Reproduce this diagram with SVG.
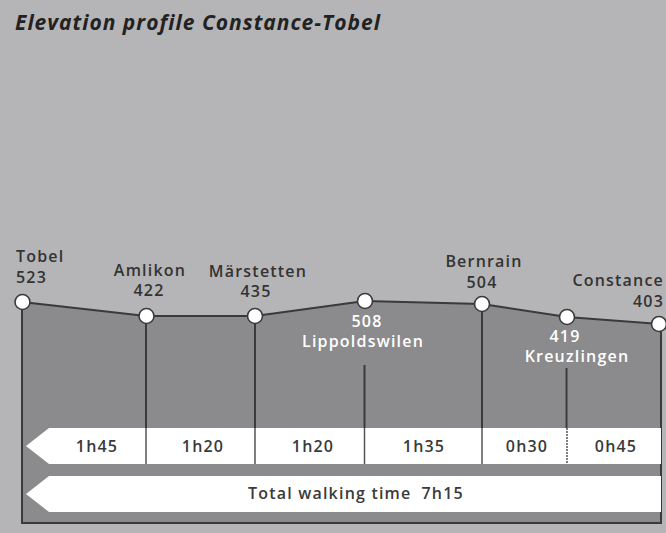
<svg xmlns="http://www.w3.org/2000/svg" width="666" height="533" viewBox="0 0 666 533">
<style>
.lbl{font-family:"Open Sans","Liberation Sans",sans-serif;font-weight:600;font-size:16px;letter-spacing:1.2px;fill:#333;text-anchor:middle}
.wl{fill:#fff}
.tm{font-family:"Open Sans","Liberation Sans",sans-serif;font-weight:600;font-size:16px;letter-spacing:1.2px;fill:#3a3a3a;text-anchor:middle}
.pt{fill:#fff;stroke:#3a3a3a;stroke-width:1.6}
.vl{stroke:#3a3a3a;stroke-width:2;fill:none}
.sep{stroke:#555;stroke-width:1.5}
.box{fill:#fff}
</style>
<rect x="0" y="0" width="666" height="533" fill="#b5b5b7"/>
<text x="15" y="30" font-family="Open Sans, Liberation Sans, sans-serif" font-weight="700" font-style="italic" font-size="21" letter-spacing="1" fill="#222">Elevation profile Constance-Tobel</text>
<g id="profile">
<polygon points="22,302 146,316 255,316 365,301 482,304 567,317 660,324 661,523 22,523" fill="#8b8b8d"/>
<polyline points="22,302 146,316 255,316 365,301 482,304 567,317 660,324" fill="none" stroke="#3a3a3a" stroke-width="2"/>
<polyline points="22,302 22,523 661,523 661,324" class="vl"/>
</g>
<g id="connectors">
<line x1="146" y1="316" x2="146" y2="464" class="vl"/>
<line x1="255" y1="316" x2="255" y2="464" class="vl"/>
<line x1="364.5" y1="365" x2="364.5" y2="428" class="vl"/>
<line x1="482" y1="304" x2="482" y2="464" class="vl"/>
<line x1="566.5" y1="368" x2="566.5" y2="428" class="vl"/>
</g>
<g id="times">
<polygon class="box" points="49,428 661,428 661,464 49,464 26,446"/>
<line x1="146" y1="428" x2="146" y2="464" class="sep"/>
<line x1="255" y1="428" x2="255" y2="464" class="sep"/>
<line x1="364.5" y1="428" x2="364.5" y2="464" class="sep"/>
<line x1="482" y1="428" x2="482" y2="464" class="sep"/>
<line x1="567" y1="428" x2="567" y2="464" class="sep" stroke-dasharray="2,1"/>
<text class="tm" x="97" y="452">1h45</text>
<text class="tm" x="203" y="452">1h20</text>
<text class="tm" x="313" y="452">1h20</text>
<text class="tm" x="424" y="452">1h35</text>
<text class="tm" x="527" y="452">0h30</text>
<text class="tm" x="616" y="452">0h45</text>
</g>
<g id="total">
<polygon class="box" points="49,476 661,476 661,512 49,512 26,494"/>
<text class="tm" x="248" y="499" style="text-anchor:start">Total walking time<tspan dx="10">7h15</tspan></text>
</g>
<g id="tobel"><circle class="pt" cx="22.5" cy="302" r="7.5"/><text class="lbl" x="16" y="262" style="text-anchor:start">Tobel</text><text class="lbl" x="16" y="283" style="text-anchor:start">523</text></g>
<g id="amlikon"><circle class="pt" cx="146.5" cy="316" r="7.5"/><text class="lbl" x="150" y="276">Amlikon</text><text class="lbl" x="149" y="296">422</text></g>
<g id="marstetten"><circle class="pt" cx="255" cy="316" r="7.5"/><text class="lbl" x="258" y="277">Märstetten</text><text class="lbl" x="256" y="297">435</text></g>
<g id="lippoldswilen"><circle class="pt" cx="365" cy="301" r="7.5"/><text class="lbl wl" x="367" y="327">508</text><text class="lbl wl" x="363" y="347">Lippoldswilen</text></g>
<g id="bernrain"><circle class="pt" cx="482" cy="304" r="7.5"/><text class="lbl" x="484" y="267">Bernrain</text><text class="lbl" x="482" y="288">504</text></g>
<g id="kreuzlingen"><circle class="pt" cx="567" cy="317" r="7.5"/><text class="lbl wl" x="565" y="342">419</text><text class="lbl wl" x="577" y="362">Kreuzlingen</text></g>
<g id="constance"><circle class="pt" cx="659" cy="324" r="7.5"/><text class="lbl" x="664" y="286" style="text-anchor:end">Constance</text><text class="lbl" x="664" y="307" style="text-anchor:end">403</text></g>
</svg>
